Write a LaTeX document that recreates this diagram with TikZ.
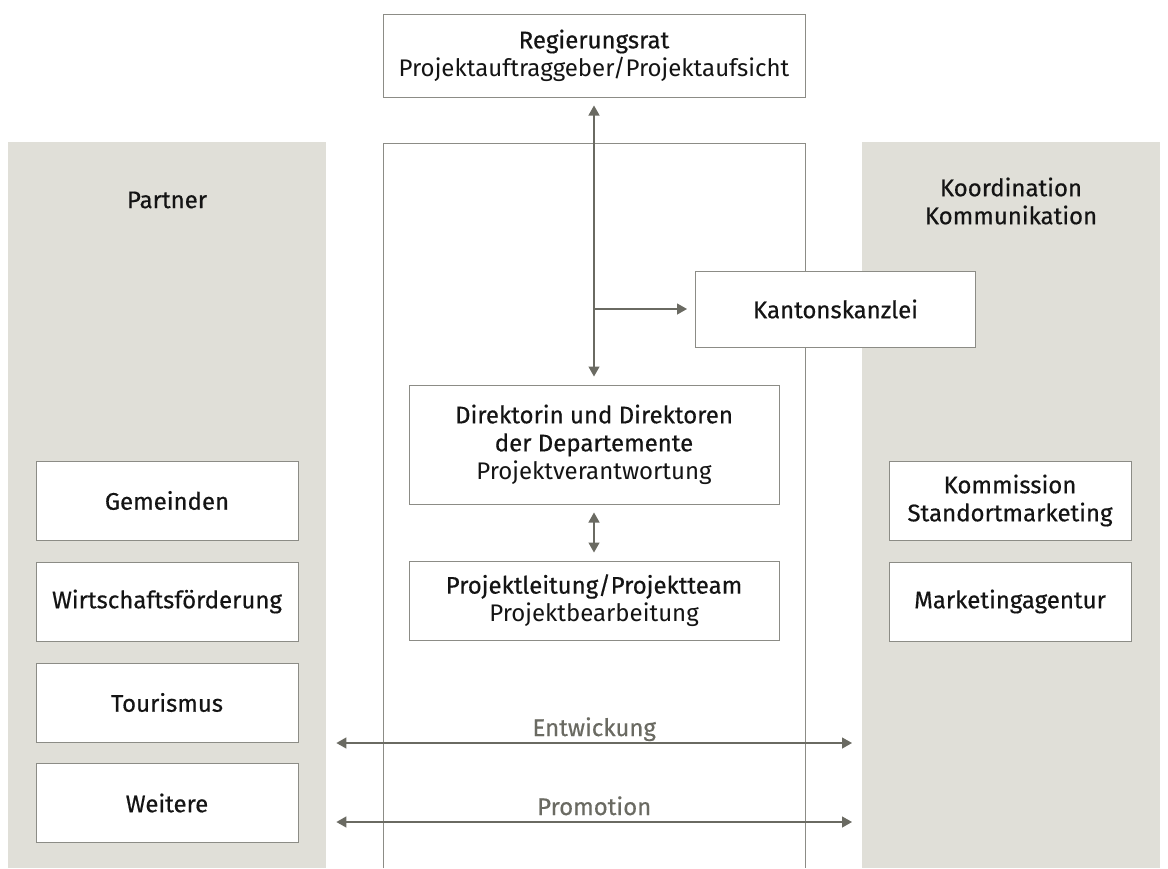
\documentclass[tikz,border=0pt]{standalone}
\usepackage{fontspec}
\setmainfont{Fira Sans}
\newfontfamily\medfont{Fira Sans}[FakeBold=0.5]
\usetikzlibrary{arrows.meta,positioning}
\definecolor{panelgray}{RGB}{224,223,216}
\definecolor{boxline}{RGB}{140,140,134}
\definecolor{arrowgray}{RGB}{106,106,98}
\definecolor{textblack}{RGB}{20,20,20}
\tikzset{
  box/.style={draw=boxline, fill=white, line width=1pt, align=center, inner sep=0pt,
    text=textblack, font=\fontsize{24}{28}\selectfont},
  panel/.style={fill=panelgray, inner sep=0pt, anchor=north west},
  tip/.tip={Triangle[length=10pt,width=11pt]},
  link/.style={draw=arrowgray, line width=1.3pt, -tip},
  both/.style={draw=arrowgray, line width=1.3pt, tip-tip},
  flowlabel/.style={midway, anchor=base, yshift=7pt, text=arrowgray,
    font=\fontsize{24}{28}\selectfont\medfont}
}
\begin{document}
\begin{tikzpicture}[x=1pt, y=-1pt]
        \useasboundingbox (0,0) rectangle (1168,868);

        % 灰色区域
        \node[panel, minimum width=318pt, minimum height=726pt] (partnerfeld) at (8,142) {};
        \node[panel, minimum width=298pt, minimum height=726pt] (koordfeld) at (862,142) {};
        \node[text=textblack, font=\fontsize{24}{28}\selectfont\medfont] (partner) at (167,200) {Partner};
        \node[text=textblack, align=center, font=\fontsize{24}{28}\selectfont\medfont] (koord) at (1011,201) {Koordination\\Kommunikation};

        % 中间框
        \draw[boxline, line width=1pt] (383,868) |- (805,143) -- (805,868);

        % 节点
        \node[box, minimum width=422pt, minimum height=83pt] (rat) at (594,55.5)
          {{\medfont Regierungsrat}\\Projektauftraggeber/Projektaufsicht};
        \node[box, minimum width=280pt, minimum height=76pt] (kanz) at (835.5,309)
          {\medfont Kantonskanzlei};
        \node[box, minimum width=370pt, minimum height=119pt] (dir) at (594,444.5)
          {{\medfont Direktorin und Direktoren}\\{\medfont der Departemente}\\Projektverantwortung};
        \node[box, minimum width=370pt, minimum height=79pt] (proj) at (594,600.5)
          {{\medfont Projektleitung/Projektteam}\\Projektbearbeitung};

        \node[box, minimum width=262pt, minimum height=79pt] (gem) at (167,500.5) {\medfont Gemeinden};
        \node[box, minimum width=262pt, minimum height=79pt] (wirt) at (167,601.5) {\medfont Wirtschaftsförderung};
        \node[box, minimum width=262pt, minimum height=79pt] (tour) at (167,702.5) {\medfont Tourismus};
        \node[box, minimum width=262pt, minimum height=79pt] (weit) at (167,803) {\medfont Weitere};

        \node[box, minimum width=242pt, minimum height=79pt] (komm) at (1010,500.5)
          {{\medfont Kommission}\\{\medfont Standortmarketing}};
        \node[box, minimum width=242pt, minimum height=79pt] (mark) at (1010,601.5) {\medfont Marketingagentur};

        % 箭头
        \coordinate (abzweig) at (rat.south |- kanz.west);
        \coordinate (ent) at (0,743);
        \coordinate (prom) at (0,822);
        \draw[both, shorten <=8pt, shorten >=8pt] (rat.south) -- (dir.north);
        \draw[link, shorten >=8pt] (abzweig) -- (kanz.west);
        \draw[both, shorten <=8pt, shorten >=8pt] (dir.south) -- (proj.north);
        \draw[both, shorten <=10pt, shorten >=10pt] (partnerfeld.east |- ent) -- (koordfeld.west |- ent)
          node[flowlabel] {Entwickung};
        \draw[both, shorten <=10pt, shorten >=10pt] (partnerfeld.east |- prom) -- (koordfeld.west |- prom)
          node[flowlabel] {Promotion};
\end{tikzpicture}
\end{document}
